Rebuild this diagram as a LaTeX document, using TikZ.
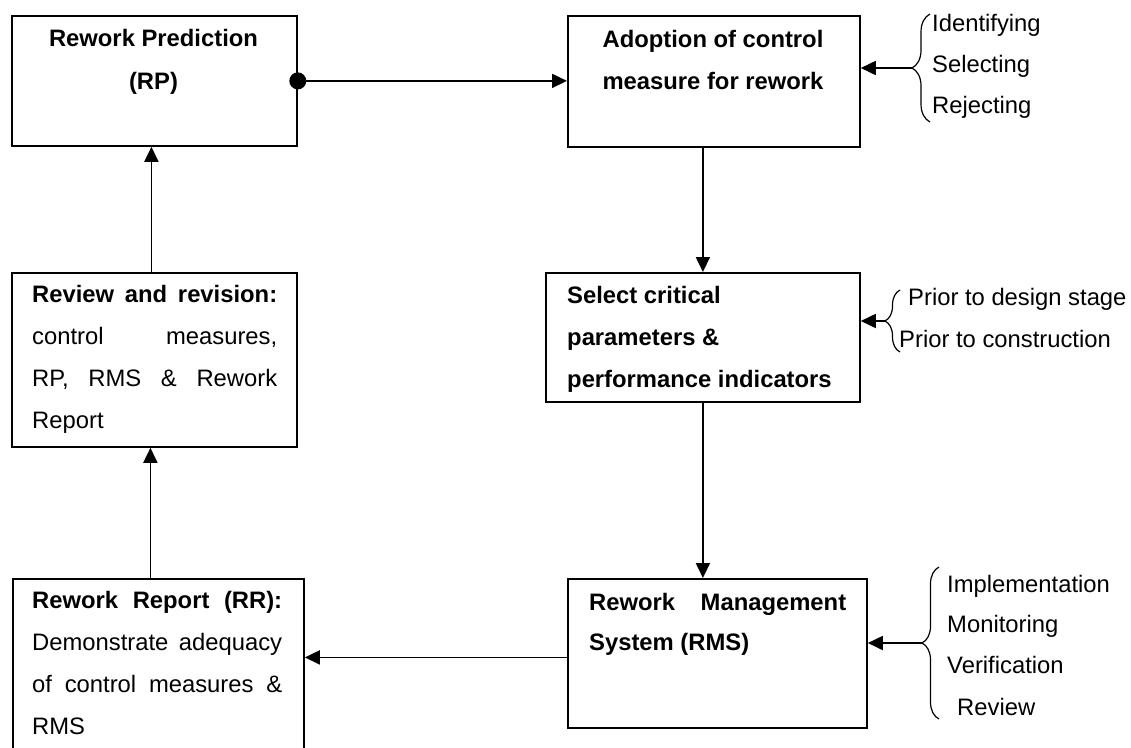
\documentclass[tikz,border=0pt]{standalone}
\usepackage{fontspec}
\setmainfont{Liberation Sans}
\usetikzlibrary{arrows.meta,decorations.pathreplacing}

\tikzset{
  box/.style={draw, line width=1.8pt, rectangle, inner sep=0pt, anchor=north west},
  txt/.style={inner sep=0pt, font=\fontsize{23.8pt}{42pt}\selectfont},
  arr/.style={line width=1.8pt, -{Triangle[length=15pt,width=14pt]}},
  curly/.style={line width=1.2pt, decorate, decoration={brace, amplitude=#1}},
}

\begin{document}
\begin{tikzpicture}[x=1pt, y=-1pt]
\useasboundingbox (0,0) rectangle (1131,747);
\begin{scope}
\clip (0,0) rectangle (1131,747);

% process boxes
\node[box, minimum width=285pt, minimum height=130pt] (rp)  at (11,15)  {};
\node[box, minimum width=292pt, minimum height=131pt] (ad)  at (567,15) {};
\node[box, minimum width=285pt, minimum height=174pt] (rev) at (11,272) {};
\node[box, minimum width=314pt, minimum height=129pt] (sel) at (545,272) {};
\node[box, minimum width=291pt, minimum height=200pt] (rr)  at (12,578) {};
\node[box, minimum width=299pt, minimum height=149pt] (rms) at (567,578) {};

% box texts (each node is anchored at the baseline of its last line)
\node[txt, anchor=base, align=center, font=\fontsize{23.8pt}{42.5pt}\selectfont\bfseries] (rptxt) at (153.5,89)
  {Rework Prediction\\(RP)};
\node[txt, anchor=base, align=center, font=\fontsize{23.8pt}{42.5pt}\selectfont\bfseries] (adtxt) at (713,89.5)
  {Adoption of control\\measure for rework};
\node[txt, anchor=base west, align=left, font=\fontsize{23.8pt}{42pt}\selectfont\bfseries] (seltxt) at (567,387)
  {Select critical\\parameters \&\\performance indicators};
\node[txt, anchor=base west, align=left, font=\fontsize{23.8pt}{41.7pt}\selectfont] (revtxt) at (32,428)
  {\makebox[245pt][s]{\bfseries Review and revision:}\\
   \makebox[245pt][s]{control measures,}\\
   \makebox[245pt][s]{RP, RMS \& Rework}\\
   Report};
\node[txt, anchor=base west, align=left] (rrtxt) at (32,734)
  {\makebox[250pt][s]{\bfseries Rework Report (RR):}\\
   \makebox[250pt][s]{Demonstrate adequacy}\\
   \makebox[250pt][s]{of control measures \&}\\
   RMS};
\node[txt, anchor=base west, align=left, font=\fontsize{23.8pt}{40pt}\selectfont\bfseries] (rmstxt) at (589,650)
  {\makebox[257pt][s]{Rework Management}\\System (RMS)};

% side lists
\node[txt, anchor=base west] (s1) at (932,31)  {Identifying};
\node[txt, anchor=base west] (s2) at (932,72)  {Selecting};
\node[txt, anchor=base west] (s3) at (932,113) {Rejecting};
\node[txt, anchor=base west] (p1) at (908,305) {Prior to design stage};
\node[txt, anchor=base west] (p2) at (899,347) {Prior to construction};
\node[txt, anchor=base west] (m1) at (947,592) {Implementation};
\node[txt, anchor=base west] (m2) at (947,632) {Monitoring};
\node[txt, anchor=base west] (m3) at (947,673) {Verification};
\node[txt, anchor=base west] (m4) at (957,715) {Review};

% braces
\draw[curly=18pt] (930,122) -- (930,14);
\draw[curly=15pt] (900,352) -- (900,290);
\draw[curly=17pt] (939,719) -- (939,567);
\coordinate (b1) at (912,68);
\coordinate (b2) at (885,321);
\coordinate (b3) at (922,643);

% flow connectors
\draw[arr] (rp.east) -- (rp.east -| ad.west);
\fill (rp.east) circle (8.5pt);
\draw[arr] (sel.north |- ad.south) -- (sel.north);
\draw[arr] (sel.south) -- (sel.south |- rms.north);
\draw[arr] ([yshift=-4pt]rms.west) -- ([yshift=-4pt]rms.west -| rr.east);
\draw[arr] ([xshift=-4pt]rev.south |- rr.north) -- ([xshift=-4pt]rev.south);
\draw[arr] ([xshift=-3pt]rev.north) -- ([xshift=-3pt]rp.south);

% inputs from the side lists
\draw[arr] (b1) -- (b1 -| ad.east);
\draw[arr] (b2) -- (b2 -| sel.east);
\draw[arr] (b3) -- (b3 -| rms.east);
\end{scope}
\end{tikzpicture}
\end{document}
